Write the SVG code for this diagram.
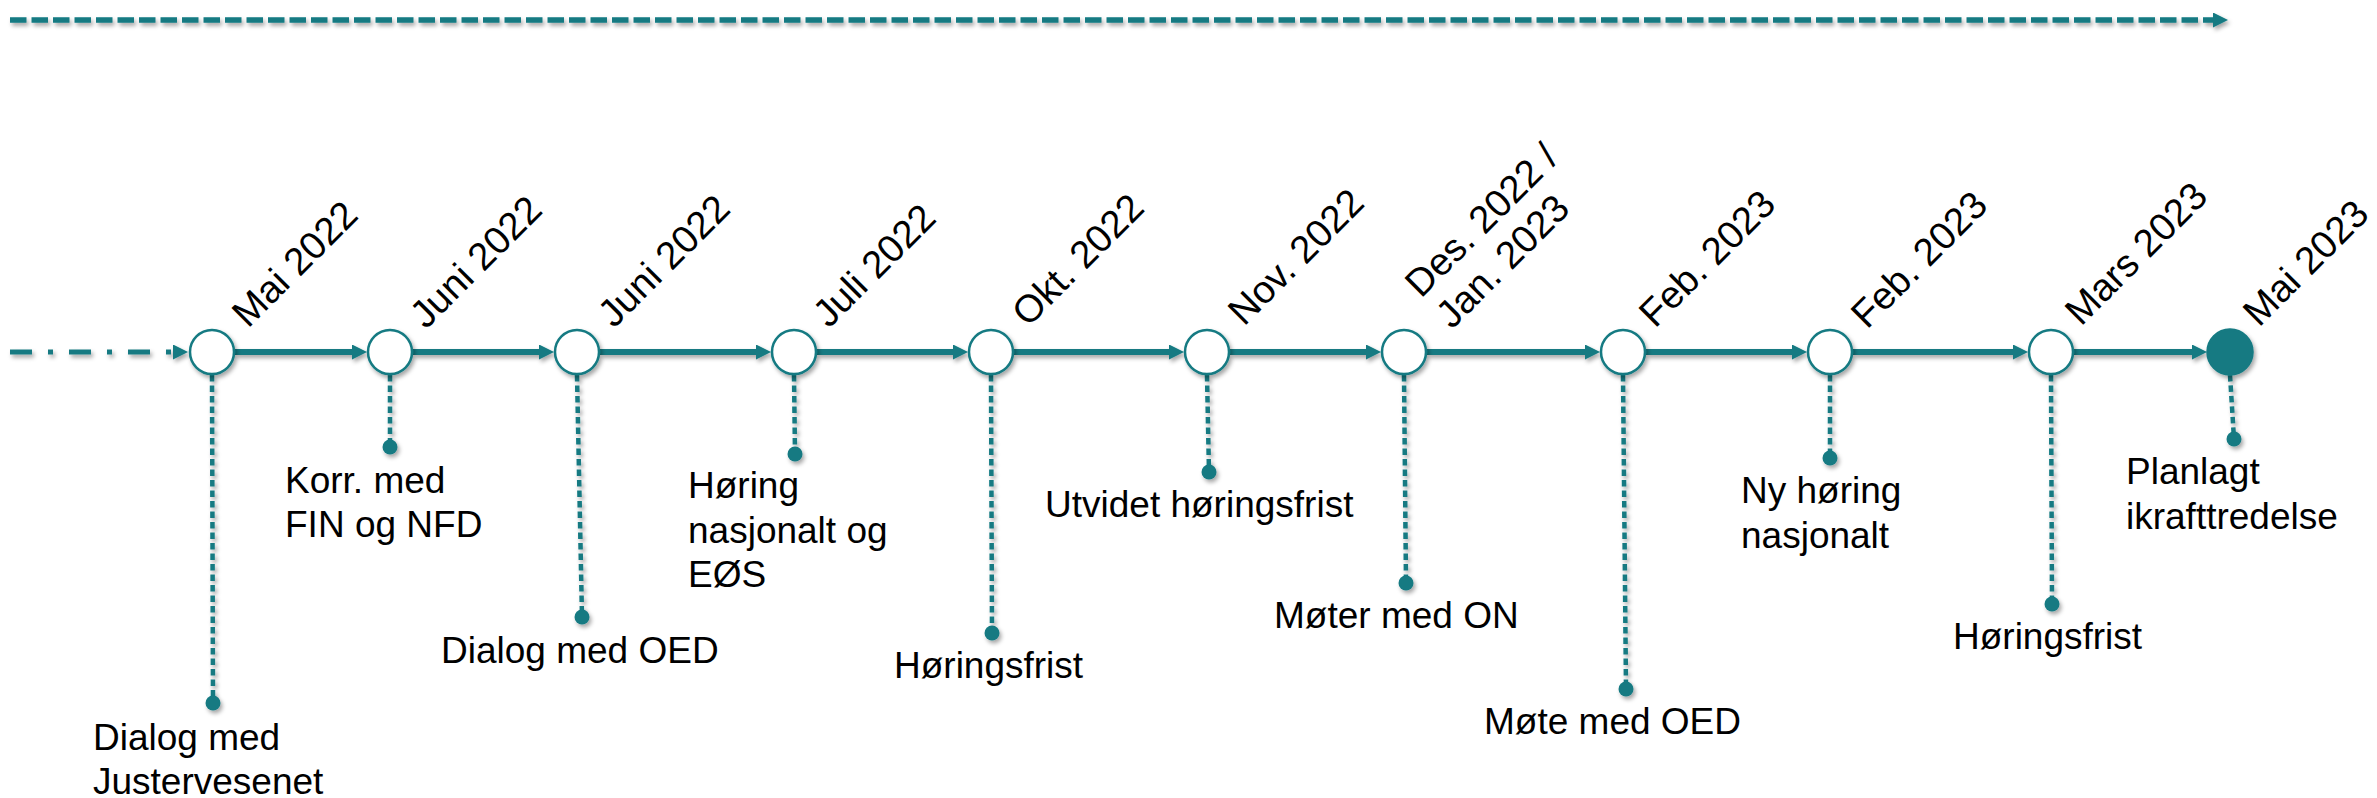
<svg xmlns="http://www.w3.org/2000/svg" width="2377" height="798" viewBox="0 0 2377 798">
<style>
  text { font-family: "Liberation Sans", Arial, sans-serif; font-size: 37px; fill: #000; }
  .date { font-size: 38.5px; }
  .conn { stroke: #137a82; stroke-width: 6; fill: none; }
  .top { stroke: #137a82; stroke-width: 5.5; fill: none; stroke-dasharray: 16.5 5; }
  .lead { stroke: #137a82; stroke-width: 5; fill: none; stroke-dasharray: 22 16 5 16; }
  .ms { fill: #fff; stroke: #137a82; stroke-width: 2.5; }
  .msf { fill: #137a82; stroke: #137a82; stroke-width: 2.5; }
  .lead-v { stroke: #137a82; stroke-width: 4.5; fill: none; stroke-dasharray: 6.5 4; }
  .dot { fill: #137a82; }
</style>
<defs>
  <filter id="sh" filterUnits="userSpaceOnUse" x="0" y="0" width="2377" height="798">
    <feDropShadow dx="2" dy="3" stdDeviation="2" flood-color="#000" flood-opacity="0.35"/>
  </filter>
  <marker id="ah" markerUnits="userSpaceOnUse" markerWidth="16" markerHeight="16" refX="1" refY="7.5" orient="auto">
    <path d="M0,0 L15,7.5 L0,15 z" fill="#137a82"/>
  </marker>
</defs>

<g id="connectors" filter="url(#sh)">
  <line class="top" x1="10" y1="20" x2="2214" y2="20" marker-end="url(#ah)"/>
  <line class="lead" x1="10" y1="352" x2="174" y2="352" marker-end="url(#ah)"/>
  <line class="conn" x1="235" y1="352" x2="353" y2="352" marker-end="url(#ah)"/>
  <line class="conn" x1="413" y1="352" x2="540" y2="352" marker-end="url(#ah)"/>
  <line class="conn" x1="600" y1="352" x2="757" y2="352" marker-end="url(#ah)"/>
  <line class="conn" x1="817" y1="352" x2="954" y2="352" marker-end="url(#ah)"/>
  <line class="conn" x1="1014" y1="352" x2="1170" y2="352" marker-end="url(#ah)"/>
  <line class="conn" x1="1230" y1="352" x2="1367" y2="352" marker-end="url(#ah)"/>
  <line class="conn" x1="1427" y1="352" x2="1586" y2="352" marker-end="url(#ah)"/>
  <line class="conn" x1="1646" y1="352" x2="1793" y2="352" marker-end="url(#ah)"/>
  <line class="conn" x1="1853" y1="352" x2="2014" y2="352" marker-end="url(#ah)"/>
  <line class="conn" x1="2074" y1="352" x2="2193" y2="352" marker-end="url(#ah)"/>
</g>

<g id="n1">
  <line class="lead-v" x1="212" y1="375" x2="213" y2="703" filter="url(#sh)"/>
  <circle class="dot" cx="213" cy="703" r="7.5" filter="url(#sh)"/>
  <circle class="ms" cx="212" cy="352" r="22" filter="url(#sh)"/>
  <text class="date" transform="translate(248,329) rotate(-45)">Mai 2022</text>
  <text x="93" y="750">Dialog med</text>
  <text x="93" y="794">Justervesenet</text>
</g>

<g id="n2">
  <line class="lead-v" x1="390" y1="375" x2="390" y2="447" filter="url(#sh)"/>
  <circle class="dot" cx="390" cy="447" r="7.5" filter="url(#sh)"/>
  <circle class="ms" cx="390" cy="352" r="22" filter="url(#sh)"/>
  <text class="date" transform="translate(426,330) rotate(-45)">Juni 2022</text>
  <text x="285" y="493">Korr. med</text>
  <text x="285" y="537">FIN og NFD</text>
</g>

<g id="n3">
  <line class="lead-v" x1="577" y1="375" x2="582" y2="617" filter="url(#sh)"/>
  <circle class="dot" cx="582" cy="617" r="7.5" filter="url(#sh)"/>
  <circle class="ms" cx="577" cy="352" r="22" filter="url(#sh)"/>
  <text class="date" transform="translate(614,329) rotate(-45)">Juni 2022</text>
  <text x="441" y="663">Dialog med OED</text>
</g>

<g id="n4">
  <line class="lead-v" x1="794" y1="375" x2="795" y2="454" filter="url(#sh)"/>
  <circle class="dot" cx="795" cy="454" r="7.5" filter="url(#sh)"/>
  <circle class="ms" cx="794" cy="352" r="22" filter="url(#sh)"/>
  <text class="date" transform="translate(829,329) rotate(-45)">Juli 2022</text>
  <text x="688" y="498">Høring</text>
  <text x="688" y="543">nasjonalt og</text>
  <text x="688" y="587">EØS</text>
</g>

<g id="n5">
  <line class="lead-v" x1="991" y1="375" x2="992" y2="633" filter="url(#sh)"/>
  <circle class="dot" cx="992" cy="633" r="7.5" filter="url(#sh)"/>
  <circle class="ms" cx="991" cy="352" r="22" filter="url(#sh)"/>
  <text class="date" transform="translate(1028,328) rotate(-45)">Okt. 2022</text>
  <text x="894" y="678">Høringsfrist</text>
</g>

<g id="n6">
  <line class="lead-v" x1="1207" y1="375" x2="1209" y2="472" filter="url(#sh)"/>
  <circle class="dot" cx="1209" cy="472" r="7.5" filter="url(#sh)"/>
  <circle class="ms" cx="1207" cy="352" r="22" filter="url(#sh)"/>
  <text class="date" transform="translate(1244,327) rotate(-45)">Nov. 2022</text>
  <text x="1045" y="517">Utvidet høringsfrist</text>
</g>

<g id="n7">
  <line class="lead-v" x1="1404" y1="375" x2="1406" y2="583" filter="url(#sh)"/>
  <circle class="dot" cx="1406" cy="583" r="7.5" filter="url(#sh)"/>
  <circle class="ms" cx="1404" cy="352" r="22" filter="url(#sh)"/>
  <text class="date" transform="translate(1421,299) rotate(-45)"><tspan x="0" y="0">Des. 2022 /</tspan><tspan x="0" y="44">Jan. 2023</tspan></text>
  <text x="1274" y="628">Møter med ON</text>
</g>

<g id="n8">
  <line class="lead-v" x1="1623" y1="375" x2="1626" y2="689" filter="url(#sh)"/>
  <circle class="dot" cx="1626" cy="689" r="7.5" filter="url(#sh)"/>
  <circle class="ms" cx="1623" cy="352" r="22" filter="url(#sh)"/>
  <text class="date" transform="translate(1655,329) rotate(-45)">Feb. 2023</text>
  <text x="1484" y="734">Møte med OED</text>
</g>

<g id="n9">
  <line class="lead-v" x1="1830" y1="375" x2="1830" y2="458" filter="url(#sh)"/>
  <circle class="dot" cx="1830" cy="458" r="7.5" filter="url(#sh)"/>
  <circle class="ms" cx="1830" cy="352" r="22" filter="url(#sh)"/>
  <text class="date" transform="translate(1867,330) rotate(-45)">Feb. 2023</text>
  <text x="1741" y="503">Ny høring</text>
  <text x="1741" y="548">nasjonalt</text>
</g>

<g id="n10">
  <line class="lead-v" x1="2051" y1="375" x2="2052" y2="604" filter="url(#sh)"/>
  <circle class="dot" cx="2052" cy="604" r="7.5" filter="url(#sh)"/>
  <circle class="ms" cx="2051" cy="352" r="22" filter="url(#sh)"/>
  <text class="date" transform="translate(2081,327) rotate(-45)">Mars 2023</text>
  <text x="1953" y="649">Høringsfrist</text>
</g>

<g id="n11">
  <line class="lead-v" x1="2230" y1="375" x2="2234" y2="439" filter="url(#sh)"/>
  <circle class="dot" cx="2234" cy="439" r="7.5" filter="url(#sh)"/>
  <circle class="msf" cx="2230" cy="352" r="22.5" filter="url(#sh)"/>
  <text class="date" transform="translate(2259,328) rotate(-45)">Mai 2023</text>
  <text x="2126" y="484">Planlagt</text>
  <text x="2126" y="529">ikrafttredelse</text>
</g>
</svg>
